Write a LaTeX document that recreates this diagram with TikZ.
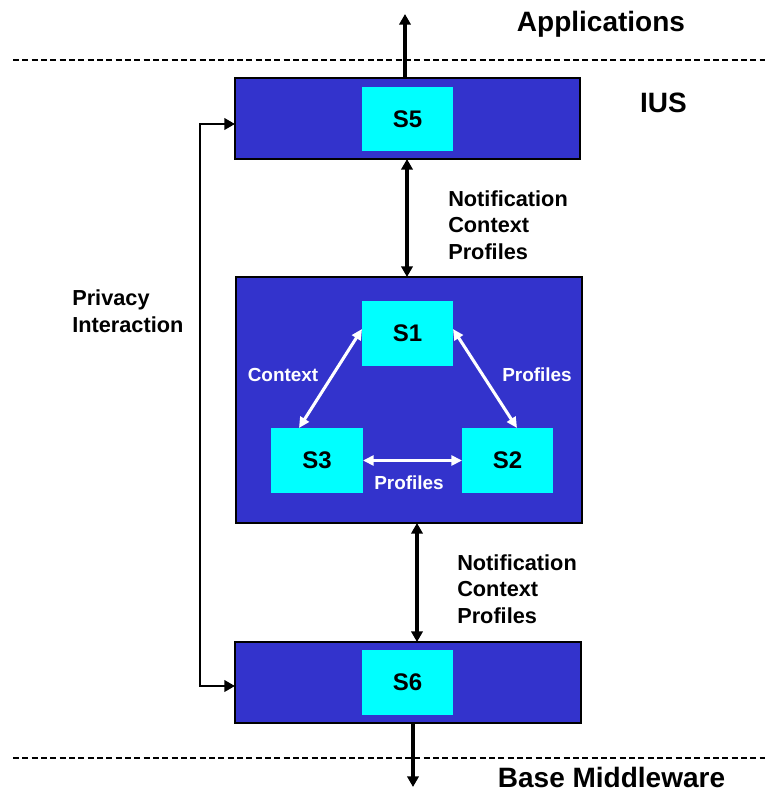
\documentclass[tikz,border=0pt]{standalone}
\usepackage{fontspec}
\setmainfont{Liberation Sans}
\usetikzlibrary{arrows.meta}
\definecolor{boxblue}{RGB}{51,51,204}
\definecolor{boxcyan}{RGB}{0,255,255}
\tikzset{
  outerbox/.style={draw=black,line width=1pt,fill=boxblue,inner sep=0pt,outer sep=0pt},
  innerbox/.style={fill=boxcyan,inner sep=0pt,outer sep=0pt,font=\fontsize{18}{20}\selectfont\bfseries},
  blk/.style={line width=2.4pt,black,{Triangle[length=8pt,width=8.5pt]}-{Triangle[length=8pt,width=8.5pt]}},
  blkone/.style={line width=2.4pt,black,-{Triangle[length=8pt,width=8.5pt]}},
  wht/.style={line width=2.3pt,white,{Triangle[length=8pt,width=7.5pt]}-{Triangle[length=8pt,width=7.5pt]}},
  sep/.style={line width=1.1pt,black,dash pattern=on 4.5pt off 2.5pt},
  title/.style={font=\fontsize{21}{24}\selectfont\bfseries,inner sep=0pt},
  lbl/.style={font=\fontsize{16.3}{20}\selectfont\bfseries,inner sep=0pt,align=left},
  wlbl/.style={font=\fontsize{14.2}{17}\selectfont\bfseries,text=white,inner sep=0pt}
}
\begin{document}
\begin{tikzpicture}[x=0.75pt,y=-0.75pt]
\useasboundingbox (0,0) rectangle (765,796);
% separators
\coordinate (d1a) at (13,60); \coordinate (d1b) at (765,60);
\coordinate (d2a) at (13,758); \coordinate (d2b) at (765,758);
\draw[sep] (d1a) -- (d1b);
\draw[sep] (d2a) -- (d2b);
% boxes
\node[outerbox,minimum width=258.75pt,minimum height=60.75pt] (top) at (407.5,118.5) {};
\node[innerbox,minimum width=68.25pt,minimum height=48pt] (s5) at (407.5,119) {S5};
\node[outerbox,minimum width=259.5pt,minimum height=184.5pt] (mid) at (409,400) {};
\node[innerbox,minimum width=68.25pt,minimum height=48.75pt] (s1) at (407.5,333.5) {S1};
\node[innerbox,minimum width=69pt,minimum height=48.75pt] (s3) at (317,460.5) {S3};
\node[innerbox,minimum width=68.25pt,minimum height=48.75pt] (s2) at (507.5,460.5) {S2};
\node[outerbox,minimum width=259.5pt,minimum height=60.75pt] (bot) at (408,682.5) {};
\node[innerbox,minimum width=68.25pt,minimum height=48.75pt] (s6) at (407.5,682.5) {S6};
% titles
\node[title] (app) at (601,24) {Applications};
\node[title] (ius) at (663.5,102.5) {IUS};
\node[title] (base) at (611.5,777) {Base Middleware};
% labels
\node[lbl,anchor=west] (n1) at (448,225) {Notification\\Context\\Profiles};
\node[lbl,anchor=west] (n2) at (457,589) {Notification\\Context\\Profiles};
\node[lbl,anchor=west] (priv) at (72,311) {Privacy\\Interaction};
\node[wlbl] (wc) at (283,375) {Context};
\node[wlbl] (wp1) at (537,375) {Profiles};
\node[wlbl] (wp2) at (409,483) {Profiles};
% black connectors
\coordinate (apptip) at (405,14);
\coordinate (basetip) at (413,787);
\draw[blkone] (top.north -| apptip) -- (apptip);
\draw[blkone] (bot.south -| basetip) -- (basetip);
\draw[blk] (top.south -| 407,0) -- (mid.north -| 407,0);
\draw[blk] (mid.south -| 417,0) -- (bot.north -| 417,0);
\draw[blk,line width=2.2pt] (top.west |- 0,124) -- (200,124) -- (200,686) -- (bot.west |- 0,686);
% white connectors
\draw[wht] (s1.west |- 0,329) -- (s3.north -| 299,0);
\draw[wht] (s1.east |- 0,329) -- (s2.north -| 517,0);
\draw[wht] (s3.east) -- (s2.west);
\end{tikzpicture}
\end{document}
